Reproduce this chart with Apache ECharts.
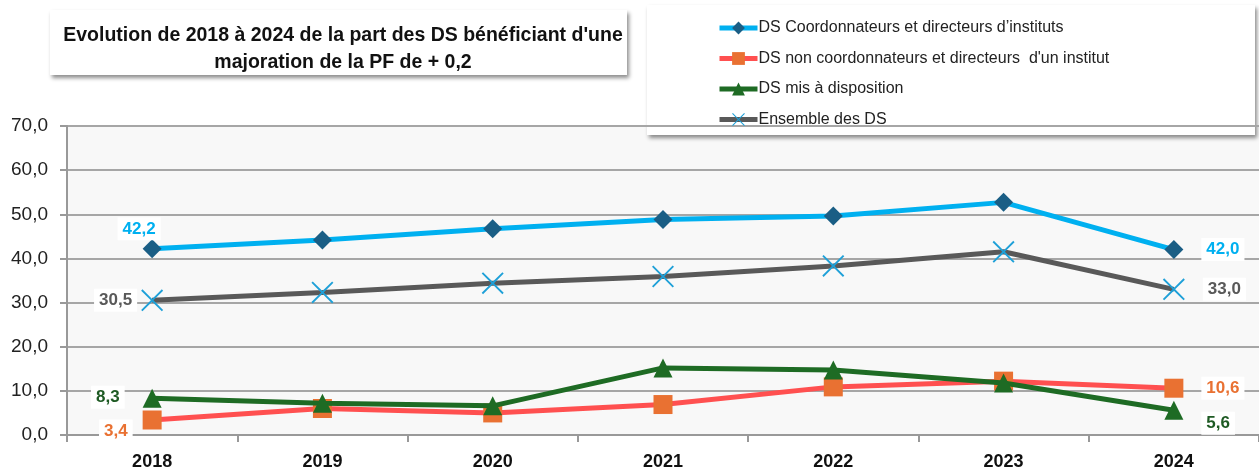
<!DOCTYPE html>
<html>
<head>
<meta charset="utf-8">
<script src="https://cdn.jsdelivr.net/npm/echarts@6/dist/echarts.min.js"></script>
<style>
  html, body { margin: 0; padding: 0; background: #fff; }
  #chart { width: 1259px; height: 471px; }
</style>
</head>
<body>
<div id="chart"></div>
<script>
const years = ['2018', '2019', '2020', '2021', '2022', '2023', '2024'];
const coordonnateurs = [42.2, 44.2, 46.7, 48.8, 49.6, 52.7, 42.0];
const nonCoordonnateurs = [3.4, 6.0, 5.0, 6.9, 10.9, 12.2, 10.6];
const misADisposition = [8.3, 7.2, 6.6, 15.2, 14.7, 11.8, 5.6];
const ensemble = [30.5, 32.3, 34.4, 35.9, 38.3, 41.5, 33.0];

const seriesNames = [
    'DS Coordonnateurs et directeurs d\u2019instituts',
    'DS non coordonnateurs et directeurs  d\'un institut',
    'DS mis à disposition',
    'Ensemble des DS'
];

const crossPath = 'path://M0,6L6,0L50,44L94,0L100,6L56,50L100,94L94,100L50,56L6,100L0,94L44,50Z';

function fmt(v) {
    return v.toFixed(1).replace('.', ',');
}

// only first and last points carry a label
function withEndLabels(values, color, first, last) {
    return values.map((v, i) => {
        const item = { value: v };
        if (i === 0 || i === values.length - 1) {
            item.label = Object.assign({
                show: true,
                color: color,
                fontWeight: 'bold',
                fontSize: 17,
                fontFamily: 'Liberation Sans, Arial, sans-serif',
                backgroundColor: '#fff',
                padding: [4, 5, 2, 5],
                formatter: (p) => fmt(p.value)
            }, i === 0 ? first : last);
        }
        return item;
    });
}

document.addEventListener("DOMContentLoaded", () => {
    const chart = echarts.init(document.getElementById('chart'));

    const option = {
        animation: false,
        graphic: [
            {
                type: 'rect',
                shape: { x: 50, y: 10, width: 577, height: 65 },
                style: { fill: '#fff', shadowBlur: 4, shadowOffsetX: 2, shadowOffsetY: 3, shadowColor: 'rgba(0,0,0,0.45)' },
                z: 0
            },
            {
                type: 'rect',
                shape: { x: 647, y: 5, width: 608, height: 130 },
                style: { fill: '#fff', shadowBlur: 4, shadowOffsetX: 2, shadowOffsetY: 3, shadowColor: 'rgba(0,0,0,0.45)' },
                z: 0
            }
        ],
        title: {
            text: 'Evolution de 2018 à 2024 de la part des DS bénéficiant d\'une\nmajoration de la PF de + 0,2',
            left: 338,
            top: 17,
            textAlign: 'center',
            textStyle: {
                fontFamily: 'Liberation Sans, Arial, sans-serif',
                fontWeight: 'bold',
                fontSize: 19.5,
                lineHeight: 27,
                color: '#111'
            }
        },
        legend: {
            orient: 'vertical',
            left: 712,
            top: 15,
            itemWidth: 38,
            itemHeight: 16,
            itemGap: 14.5,
            lineStyle: { width: 5 },
            textStyle: {
                fontFamily: 'Liberation Sans, Arial, sans-serif',
                fontSize: 16,
                color: '#222',
                padding: [0, 0, 0, -4]
            },
            data: seriesNames
        },
        grid: {
            left: 67,
            right: -12,
            top: 126,
            bottom: 35,
            show: true,
            backgroundColor: '#f8f8f8',
            borderWidth: 0
        },
        xAxis: {
            type: 'category',
            data: years,
            boundaryGap: true,
            axisLine: { lineStyle: { color: '#999', width: 2 } },
            axisTick: { show: true, length: 7, lineStyle: { color: '#999', width: 2 } },
            axisLabel: {
                color: '#111',
                fontWeight: 'bold',
                fontSize: 18,
                fontFamily: 'Liberation Sans, Arial, sans-serif',
                margin: 18
            }
        },
        yAxis: {
            type: 'value',
            min: 0,
            max: 70,
            interval: 10,
            axisLine: { show: true, lineStyle: { color: '#999', width: 2 } },
            axisTick: { show: true, length: 7, lineStyle: { color: '#999', width: 2 } },
            splitLine: { lineStyle: { color: '#a6a6a6', width: 2 } },
            axisLabel: {
                color: '#222',
                fontSize: 19,
                fontFamily: 'Liberation Sans, Arial, sans-serif',
                margin: 19,
                formatter: (v) => fmt(v)
            }
        },
        series: [
            {
                name: seriesNames[0],
                type: 'line',
                symbol: 'diamond',
                symbolSize: 19,
                lineStyle: { color: '#00b0f0', width: 5 },
                itemStyle: { color: '#1a5e85' },
                z: 4,
                data: withEndLabels(coordonnateurs, '#00b0f0',
                    { position: 'top', distance: 8, offset: [-13, 9] },
                    { position: 'right', distance: 18 })
            },
            {
                name: seriesNames[1],
                type: 'line',
                symbol: 'rect',
                symbolSize: 19,
                lineStyle: { color: '#ff5050', width: 5 },
                itemStyle: { color: '#e97132' },
                z: 3,
                data: withEndLabels(nonCoordonnateurs, '#e97132',
                    { position: 'left', distance: 10, offset: [0, 11] },
                    { position: 'right', distance: 18 })
            },
            {
                name: seriesNames[2],
                type: 'line',
                symbol: 'triangle',
                symbolSize: 19,
                lineStyle: { color: '#1e6b24', width: 5 },
                itemStyle: { color: '#1e6b24' },
                z: 4,
                data: withEndLabels(misADisposition, '#1e5a23',
                    { position: 'left', distance: 18, offset: [0, -1] },
                    { position: 'right', distance: 18, offset: [0, 13] })
            },
            {
                name: seriesNames[3],
                type: 'line',
                symbol: crossPath,
                symbolSize: 22,
                lineStyle: { color: '#595959', width: 5 },
                itemStyle: { color: '#1ea0d8' },
                z: 3,
                data: withEndLabels(ensemble, '#595959',
                    { position: 'left', distance: 4 },
                    { position: 'right', distance: 18 })
            }
        ]
    };

    chart.setOption(option);
});
</script>
</body>
</html>
